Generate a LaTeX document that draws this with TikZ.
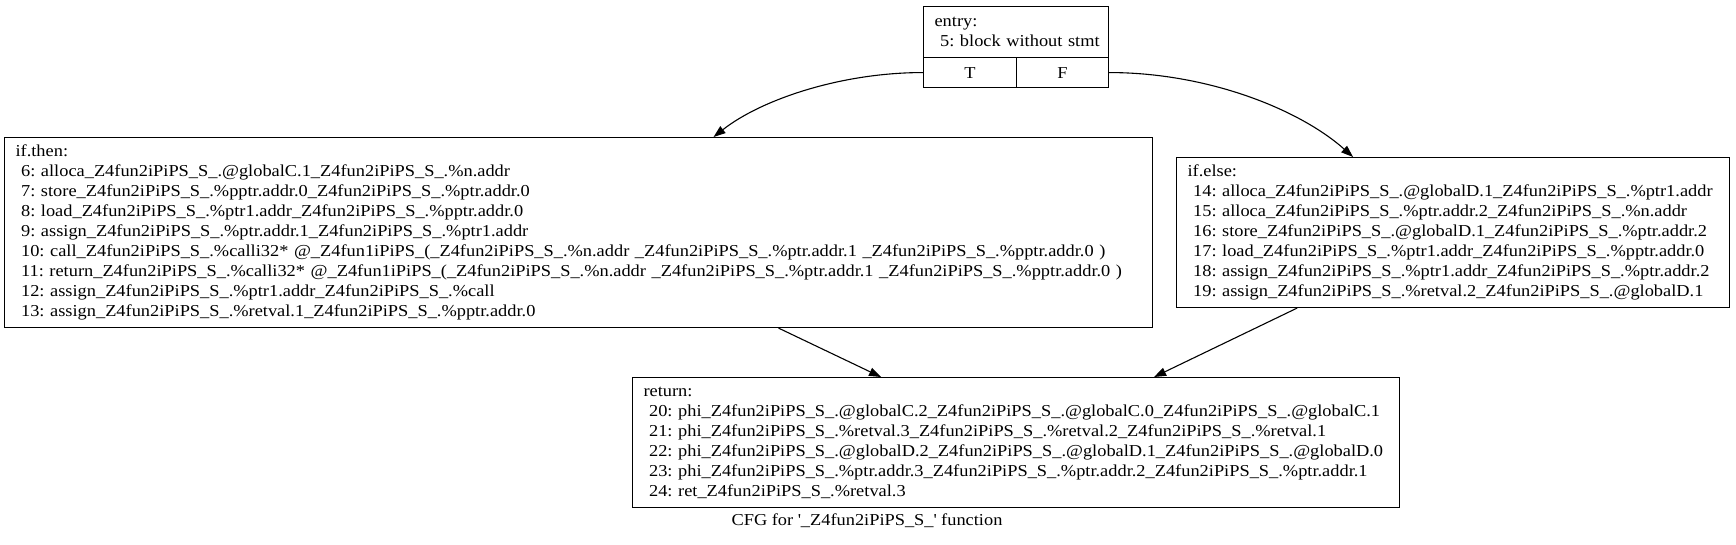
\documentclass[tikz,border=0pt]{standalone}
\usepackage{fontspec}
\setmainfont{Liberation Serif}[FakeStretch=1.1]
\usetikzlibrary{arrows.meta}
\frenchspacing
\newcommand{\zfn}{\_Z4fun2iPiPS\_S\_}
\newcommand{\pc}{\%}
\newcommand{\cfgline}[1]{\mbox{\ #1}}
\begin{document}
\begin{tikzpicture}[x=1pt,y=-1pt,
  every node/.style={font=\fontsize{16.7}{20}\selectfont},
  blk/.style={draw=black,line width=1.1pt,rectangle,anchor=north west,align=left,inner xsep=11pt,inner ysep=0pt},
  cell/.style={draw=black,line width=1.1pt,rectangle,anchor=north west,inner sep=0pt,align=center},
  edge/.style={draw=black,line width=1.1pt,-{Triangle[length=12pt,width=8.5pt]}}]
\useasboundingbox (0,0) rectangle (1736,544);

% entry
\node[blk,minimum width=185pt,text width=163pt,minimum height=51pt] (entry) at (923,6)
 {\mbox{entry:}\\\cfgline{5: block without stmt}};
\node[cell,minimum width=93pt,minimum height=30pt] (portT) at (923,57) {T};
\node[cell,minimum width=92pt,minimum height=30pt] (portF) at (1016,57) {F};

% if.then
\node[blk,minimum width=1148pt,text width=1126pt,minimum height=190pt] (then) at (4,137)
 {\mbox{if.then:}\\
 \cfgline{6: alloca\zfn.@globalC.1\zfn.\pc n.addr}\\
 \cfgline{7: store\zfn.\pc pptr.addr.0\zfn.\pc ptr.addr.0}\\
 \cfgline{8: load\zfn.\pc ptr1.addr\zfn.\pc pptr.addr.0}\\
 \cfgline{9: assign\zfn.\pc ptr.addr.1\zfn.\pc ptr1.addr}\\
 \cfgline{10: call\zfn.\pc calli32* @\_Z4fun1iPiPS\_(\zfn.\pc n.addr \zfn.\pc ptr.addr.1 \zfn.\pc pptr.addr.0 )}\\
 \cfgline{11: return\zfn.\pc calli32* @\_Z4fun1iPiPS\_(\zfn.\pc n.addr \zfn.\pc ptr.addr.1 \zfn.\pc pptr.addr.0 )}\\
 \cfgline{12: assign\zfn.\pc ptr1.addr\zfn.\pc call}\\
 \cfgline{13: assign\zfn.\pc retval.1\zfn.\pc pptr.addr.0}};

% if.else
\node[blk,minimum width=553pt,text width=531pt,minimum height=150pt] (else) at (1176,157)
 {\mbox{if.else:}\\
 \cfgline{14: alloca\zfn.@globalD.1\zfn.\pc ptr1.addr}\\
 \cfgline{15: alloca\zfn.\pc ptr.addr.2\zfn.\pc n.addr}\\
 \cfgline{16: store\zfn.@globalD.1\zfn.\pc ptr.addr.2}\\
 \cfgline{17: load\zfn.\pc ptr1.addr\zfn.\pc pptr.addr.0}\\
 \cfgline{18: assign\zfn.\pc ptr1.addr\zfn.\pc ptr.addr.2}\\
 \cfgline{19: assign\zfn.\pc retval.2\zfn.@globalD.1}};

% return
\node[blk,minimum width=767pt,text width=745pt,minimum height=130pt] (ret) at (632,377)
 {\mbox{return:}\\
 \cfgline{20: phi\zfn.@globalC.2\zfn.@globalC.0\zfn.@globalC.1}\\
 \cfgline{21: phi\zfn.\pc retval.3\zfn.\pc retval.2\zfn.\pc retval.1}\\
 \cfgline{22: phi\zfn.@globalD.2\zfn.@globalD.1\zfn.@globalD.0}\\
 \cfgline{23: phi\zfn.\pc ptr.addr.3\zfn.\pc ptr.addr.2\zfn.\pc ptr.addr.1}\\
 \cfgline{24: ret\zfn.\pc retval.3}};

% caption
\node[anchor=base,inner sep=0pt] (cap) at (867,525) {CFG for \textquotesingle\zfn\textquotesingle{} function};

% edges
\draw[edge] (portT.west) .. controls ([xshift=-83pt]portT.west) and ([xshift=182pt,yshift=37pt]then.north) .. ([xshift=135pt]then.north);
\draw[edge] (portF.east) .. controls ([xshift=98pt]portF.east) and ([xshift=-154pt,yshift=48pt]else.north) .. ([xshift=-100pt]else.north);
\draw[edge] ([xshift=200pt]then.south) -- ([xshift=-135pt]ret.north);
\draw[edge] ([xshift=-156pt]else.south) -- ([xshift=138pt]ret.north);
\end{tikzpicture}
\end{document}
